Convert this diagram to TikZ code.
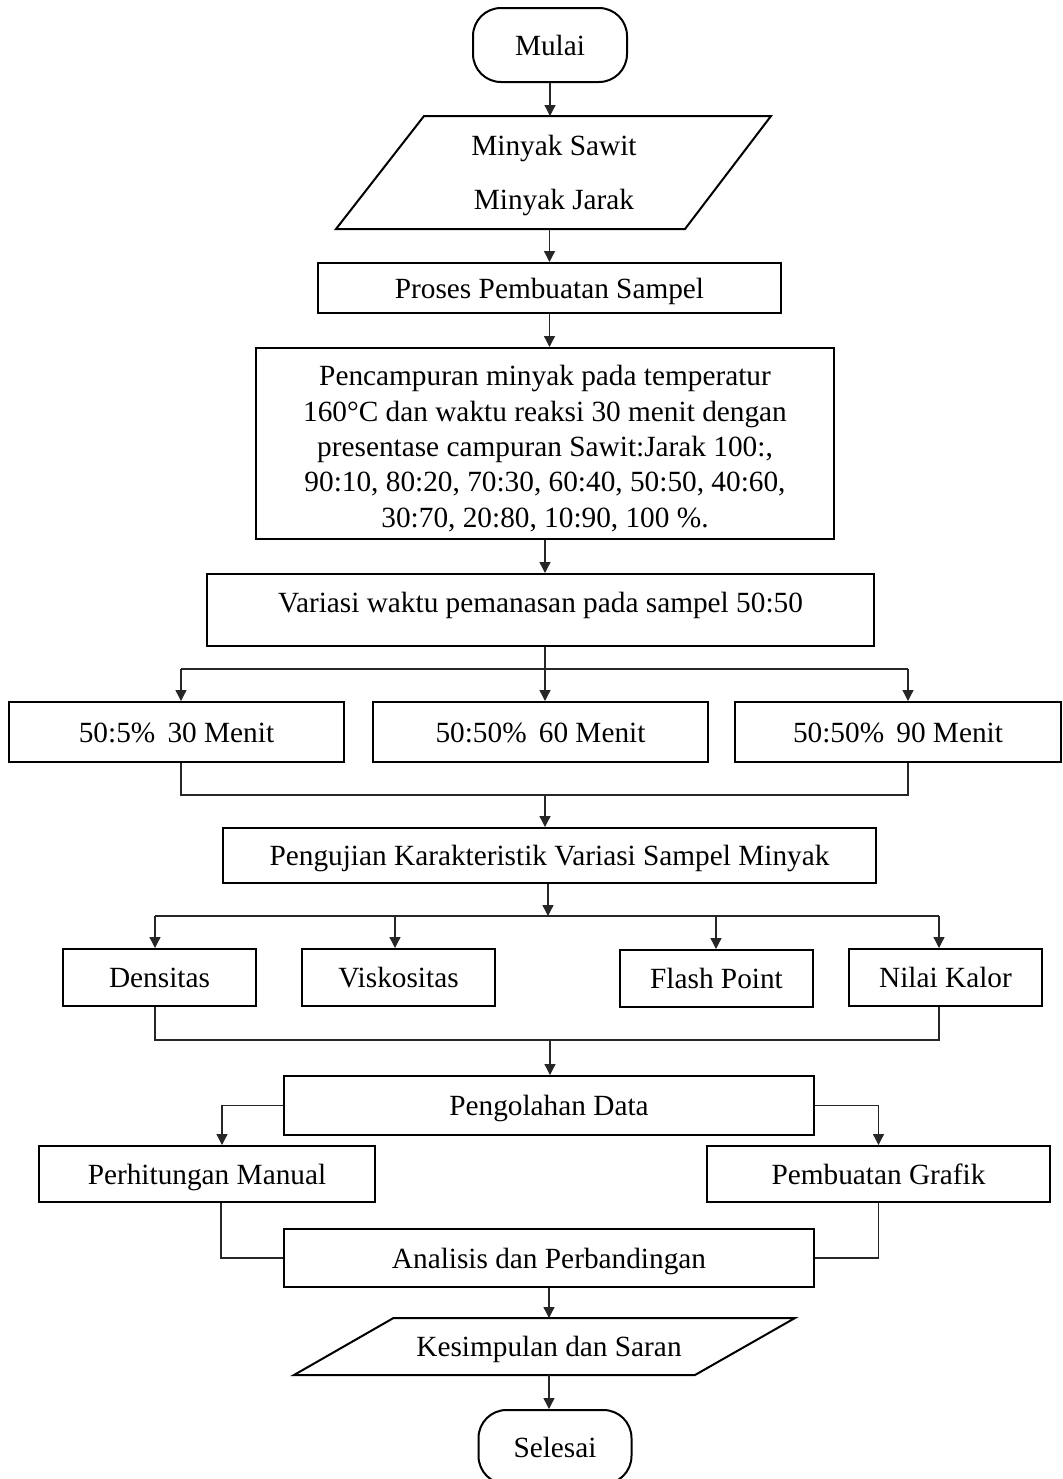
\documentclass[tikz,border=0pt]{standalone}
\usepackage{fontspec}
\setmainfont{Liberation Serif}
\usetikzlibrary{arrows.meta,calc}
\newcommand\diafont{\fontsize{14.65}{17.65}\selectfont}
\begin{document}
\begin{tikzpicture}[x=0.5pt,y=-0.5pt,
  box/.style={draw, line width=1pt, inner sep=0pt, align=center, font=\diafont},
  one/.style={text height=12pt, text depth=2pt},
  term/.style={box, one, rounded corners=14pt},
  txt/.style={inner sep=0pt, align=center, font=\diafont},
  conn/.style={line width=0.65pt, draw=black!85},
  arr/.style={conn, -{Triangle[length=5.5pt,width=5.5pt]}}]
\useasboundingbox (0,0) rectangle (1062,1479);
\clip (0,0) rectangle (1062,1479);
\fill[white] (0,0) rectangle (1062,1479);

% nodes
\node[term, minimum width=77pt, minimum height=37pt] (mulai) at (550,45) {Mulai};
\draw[line width=1pt] (424,116) -- (771,116) -- (685,229) -- (336,229) -- cycle;
\node[txt, minimum height=56.5pt] (inp) at (554,175.5) {Minyak Sawit\\[9.4pt]Minyak Jarak};
\node[box, one, minimum width=231.5pt, minimum height=25pt] (proses) at (549.5,288) {Proses Pembuatan Sampel};
\node[box, minimum width=289pt, minimum height=95.5pt] (campur) at (545,443.5) {};
\node[txt] (campurT) at (545,448.5)
  {Pencampuran minyak pada temperatur\\
   160°C dan waktu reaksi 30 menit dengan\\
   presentase campuran Sawit:Jarak 100:,\\
   90:10, 80:20, 70:30, 60:40, 50:50, 40:60,\\
   30:70, 20:80, 10:90, 100 \%.};
\node[box, minimum width=333.5pt, minimum height=36pt] (variasi) at (540.5,610) {};
\node[txt, one] (variasiT) at (540.5,602) {Variasi waktu pemanasan pada sampel 50:50};
\node[box, one, minimum width=167.5pt, minimum height=30pt] (m30) at (176.5,732) {50:5\%\, 30 Menit};
\node[box, one, minimum width=167.5pt, minimum height=30pt] (m60) at (540.5,732) {50:50\%\, 60 Menit};
\node[box, one, minimum width=163pt, minimum height=30pt] (m90) at (898,732) {50:50\%\, 90 Menit};
\node[box, one, minimum width=326.5pt, minimum height=27.5pt] (uji) at (549.5,855.5) {Pengujian Karakteristik Variasi Sampel Minyak};
\node[box, one, minimum width=96.5pt, minimum height=28.5pt] (dens) at (159.5,977.5) {Densitas};
\node[box, one, minimum width=96.5pt, minimum height=28.5pt] (visk) at (398.5,977.5) {Viskositas};
\node[box, one, minimum width=96.5pt, minimum height=28.5pt] (flash) at (716.5,978.5) {Flash Point};
\node[box, one, minimum width=96.5pt, minimum height=28.5pt] (kalor) at (945.5,977.5) {Nilai Kalor};
\node[box, one, minimum width=265pt, minimum height=29.5pt] (olah) at (549,1105.5) {Pengolahan Data};
\node[box, one, minimum width=168pt, minimum height=28pt] (manual) at (207,1174) {Perhitungan Manual};
\node[box, one, minimum width=171.5pt, minimum height=28pt] (grafik) at (878.5,1174) {Pembuatan Grafik};
\node[box, one, minimum width=265pt, minimum height=29pt] (analisis) at (549,1258) {Analisis dan Perbandingan};
\draw[line width=1pt] (393.5,1318) -- (795,1318) -- (695,1375) -- (294,1375) -- cycle;
\node[txt, one, minimum height=28.5pt] (kes) at (549,1346.5) {Kesimpulan dan Saran};
\node[term, minimum width=76.5pt, minimum height=37pt] (selesai) at (555,1447) {Selesai};

% bus coordinates
\coordinate (b1L) at (181,669);
\coordinate (b1M) at (545,669);
\coordinate (b1R) at (908,669);
\coordinate (b2L) at (181,795);
\coordinate (b2M) at (545,795);
\coordinate (b2R) at (908,795);
\coordinate (b3M) at (548,916);
\coordinate (b3A) at (155,916);
\coordinate (b3B) at (395,916);
\coordinate (b3C) at (716,916);
\coordinate (b3D) at (939,916);
\coordinate (b4L) at (155,1040);
\coordinate (b4M) at (550,1040);
\coordinate (b4R) at (939,1040);

% connectors
\draw[arr] (mulai.south) -- (mulai.south |- 0,116);
\draw[arr] (proses.north |- 0,229) -- (proses.north);
\draw[arr] (proses.south) -- (proses.south |- campur.north);
\draw[arr] (campur.south) -- (campur.south |- variasi.north);

\draw[arr] (b1M |- variasi.south) -- (b1M |- m60.north);
\draw[conn] (b1L) -- (b1R);
\draw[arr] (b1L) -- (b1L |- m30.north);
\draw[arr] (b1R) -- (b1R |- m90.north);

\draw[conn] (b2L |- m30.south) -- (b2L) -- (b2R) -- (b2R |- m90.south);
\draw[arr] (b2M) -- (b2M |- uji.north);

\draw[arr] (b3M |- uji.south) -- (b3M);
\draw[conn] (b3A) -- (b3D);
\draw[arr] (b3A) -- (b3A |- dens.north);
\draw[arr] (b3B) -- (b3B |- visk.north);
\draw[arr] (b3C) -- (b3C |- flash.north);
\draw[arr] (b3D) -- (b3D |- kalor.north);

\draw[conn] (b4L |- dens.south) -- (b4L) -- (b4R) -- (b4R |- kalor.south);
\draw[arr] (b4M) -- (b4M |- olah.north);

\draw[arr] (olah.west) -| ([xshift=7.5pt]manual.north);
\draw[arr] (olah.east) -| (grafik.north);
\draw[conn] ([xshift=7pt]manual.south) |- (analisis.west);
\draw[conn] (grafik.south) |- (analisis.east);

\draw[arr] (analisis.south) -- (analisis.south |- 0,1318);
\draw[arr] (kes.south |- 0,1375) -- (kes.south |- selesai.north);
\end{tikzpicture}
\end{document}
